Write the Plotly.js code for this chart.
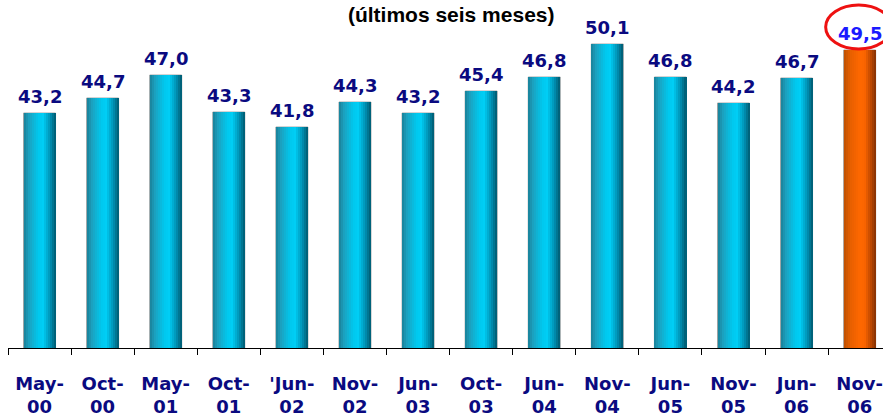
<!DOCTYPE html>
<html><head><meta charset="utf-8">
<script src="https://cdn.plot.ly/plotly-3.0.1.min.js"></script>
<style>html,body{margin:0;padding:0;background:#fff;}#chart{width:883px;height:419px;}</style>
</head><body><div id="chart"></div>
<script>
// ---- data ----
const categories = ["May-<br>00","Oct-<br>00","May-<br>01","Oct-<br>01","'Jun-<br>02","Nov-<br>02","Jun-<br>03","Oct-<br>03","Jun-<br>04","Nov-<br>04","Jun-<br>05","Nov-<br>05","Jun-<br>06","Nov-<br>06"];
const values = [43.2, 44.7, 47.0, 43.3, 41.8, 44.3, 43.2, 45.4, 46.8, 50.1, 46.8, 44.2, 46.7, 49.5];
const valueLabels = ["43,2","44,7","47,0","43,3","41,8","44,3","43,2","45,4","46,8","50,1","46,8","44,2","46,7","49,5"];
const highlightIndex = 13;
const titleText = "<b>(últimos seis meses)</b>";

// ---- style ----
const xs = categories.map((c,i)=>i);
const barW = 0.507;
const NSTRIP = 16;
const cyanStops = [[0,[26,128,152]],[0.15,[28,160,190]],[0.45,[0,200,238]],[0.6,[0,206,245]],[0.82,[0,145,180]],[1,[0,88,110]]];
const orangeStops = [[0,[190,80,0]],[0.2,[230,95,0]],[0.5,[255,104,0]],[0.65,[250,100,0]],[0.85,[185,70,0]],[1,[130,48,5]]];
function interp(stops,t){
  for(let k=0;k<stops.length-1;k++){
    const [t0,c0]=stops[k],[t1,c1]=stops[k+1];
    if(t>=t0&&t<=t1){const f=(t-t0)/(t1-t0);return 'rgb('+c0.map((v,j)=>Math.round(v+(c1[j]-v)*f)).join(',')+')';}
  }
  return 'rgb('+stops[stops.length-1][1].join(',')+')';
}
const traces = [];
traces.push({type:'bar',x:categories,y:values,width:barW,
  marker:{color:xs.map(i=>i===highlightIndex?'rgb(150,60,0)':'rgb(10,110,135)'),line:{color:'rgba(160,160,160,0.9)',width:1}},
  hoverinfo:'skip',showlegend:false});
for(let s=0;s<NSTRIP;s++){
  const t=(s+0.5)/NSTRIP;
  const sw=barW/NSTRIP;
  traces.push({type:'bar',x:categories,y:values,width:sw*1.05,offset:-barW/2+s*sw+0.001,
    marker:{color:xs.map(i=>i===highlightIndex?interp(orangeStops,t):interp(cyanStops,t)),line:{width:0}},
    hoverinfo:'skip',showlegend:false});
}
const annotations = values.map((v,i)=>({x:i,y:v,xref:'x',yref:'y',text:'<b>'+valueLabels[i]+'</b>',showarrow:false,
  yanchor:'bottom',yshift:4,
  font:{family:'DejaVu Sans',size:18,color:i===highlightIndex?'#1a1aff':'#0a0a80'}}));

const layout = {
  width:883,height:419,
  margin:{l:8,r:0,t:0,b:71},
  paper_bgcolor:'#fff',plot_bgcolor:'#fff',
  barmode:'overlay',
  bargap:0,
  showlegend:false,
  title:{text:titleText,font:{family:'Liberation Sans',size:21,color:'#000'},x:0.511,xanchor:'center',y:0.964,yanchor:'middle'},
  xaxis:{type:'category',range:[-0.5,13.37],tickson:'boundaries',
    ticks:'outside',ticklen:6,tickcolor:'#000',showline:true,linecolor:'#000',linewidth:1,showgrid:false,zeroline:false,
    tickfont:{family:'DejaVu Sans',size:18,weight:'bold',color:'#0a0a80'},ticklabelstandoff:19,fixedrange:true},
  yaxis:{range:[19.7,54.5],visible:false,showgrid:false,zeroline:false,fixedrange:true},
  annotations:annotations,
  shapes:[{type:'circle',xref:'x',yref:'y',xsizemode:'pixel',ysizemode:'pixel',
    xanchor:highlightIndex,yanchor:values[highlightIndex],x0:-34,x1:32,y0:1,y1:45,line:{color:'#ee1111',width:3}}]
};
Plotly.newPlot('chart',traces,layout,{displayModeBar:false,staticPlot:true});
</script></body></html>
